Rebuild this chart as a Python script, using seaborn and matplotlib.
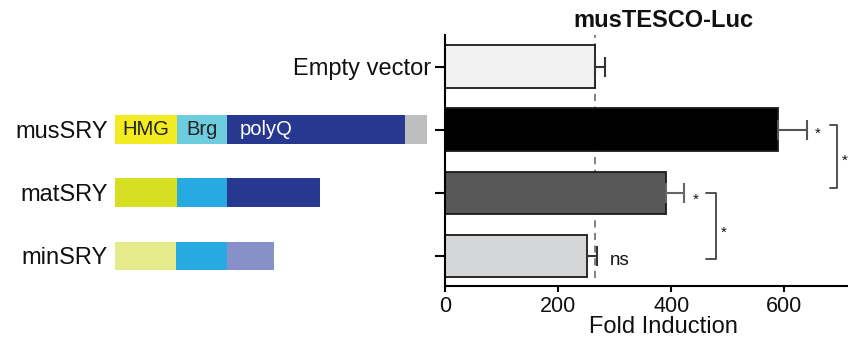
import matplotlib
matplotlib.use("Agg")
import matplotlib.pyplot as plt
import numpy as np
import pandas as pd
import seaborn as sns

# luciferase assay values (fold induction)
constructs = ["Empty vector", "musSRY", "matSRY", "minSRY"]
fold = [265, 589, 391, 251]
fold_err = [18, 51, 32, 17]
baseline = 265
bar_colors = ["#F2F2F2", "#000000", "#575757", "#D5D6D8"]
err_colors = ["#333333", "#555555", "#666666", "#333333"]
xticks = [0, 200, 400, 600]

# domain schematic (relative lengths)
sry_rows = ["musSRY", "matSRY", "minSRY"]
hmg_len = [62, 62, 61]
brg_len = [50, 50, 51]
polyq_len = [178, 93, 47]
tail_len = [22, 0, 0]
hmg_colors = ["#F3EB22", "#D7DF23", "#E5EA8B"]
brg_colors = ["#6DCDDF", "#27AAE1", "#27AAE1"]
polyq_colors = ["#283891", "#283891", "#8790C8"]
tail_color = "#BCBEC0"

sns.set_theme(style="white")
plt.rcParams["font.family"] = ["Liberation Sans", "DejaVu Sans"]
plt.rcParams["text.color"] = "#111111"
plt.rcParams["axes.labelcolor"] = "#111111"
plt.rcParams["xtick.color"] = "#111111"
plt.rcParams["ytick.color"] = "#111111"

fig = plt.figure(figsize=(8.48, 3.39), dpi=100)
ax = fig.add_axes([445 / 848, 53 / 339, 436 / 848, 251 / 339])
ax_s = fig.add_axes([115 / 848, 53 / 339, 325 / 848, 251 / 339])

df = pd.DataFrame({"construct": constructs, "fold": fold})
sns.barplot(data=df, x="fold", y="construct", hue="construct",
            palette=bar_colors, orient="h", width=0.67, errorbar=None,
            edgecolor="#1a1a1a", linewidth=1.3, legend=False, ax=ax)

for i, (v, e, c) in enumerate(zip(fold, fold_err, err_colors)):
    ax.errorbar(v, i, xerr=[[0], [e]], fmt="none", ecolor=c,
                elinewidth=1.5, capsize=7, capthick=1.5)

ax.axvline(baseline, ymin=0.03, ymax=1, color="#777777", lw=1.3,
           dashes=(4, 3), zorder=0.5)

ax.set_xlim(0, 771)
ax.set_ylim(3.48, -0.5)
ax.set_xticks(xticks)
ax.set_yticks(range(len(constructs)))
ax.set_yticklabels(["Empty vector", "", "", ""])
ax.tick_params(axis="x", labelsize=15.5, length=4.5, width=1.5, pad=3,
               bottom=True, color="black")
ax.tick_params(axis="y", labelsize=17, length=7, width=1.5, pad=3,
               left=True, color="black")
ax.set_ylabel("")
ax.set_xlabel("Fold Induction", fontsize=17, labelpad=-1)
ax.set_title("musTESCO-Luc", fontsize=17, fontweight="bold", pad=6)
for side in ["top", "right"]:
    ax.spines[side].set_visible(False)
for side in ["left", "bottom"]:
    ax.spines[side].set_color("black")
    ax.spines[side].set_linewidth(1.5)

# significance marks
line_kw = dict(color="#444444", lw=1.3, clip_on=False)
ax.text(659, 1.06, "*", fontsize=11, ha="center", va="center")
ax.plot([680, 694, 694, 680], [0.93, 0.93, 1.93, 1.93], **line_kw)
ax.text(707, 1.49, "*", fontsize=11, ha="center", va="center")
ax.text(444, 2.11, "*", fontsize=11, ha="center", va="center")
ax.plot([461, 480, 480, 461], [2.01, 2.01, 3.05, 3.05], **line_kw)
ax.text(493, 2.64, "*", fontsize=11, ha="center", va="center")
ax.text(292, 3.07, "ns", fontsize=13.5, ha="left", va="center")

# SRY domain schematic
rows = np.arange(1, len(sry_rows) + 1)
start = np.zeros(len(sry_rows))
for lengths, colors in [(hmg_len, hmg_colors), (brg_len, brg_colors),
                        (polyq_len, polyq_colors),
                        (tail_len, [tail_color] * 3)]:
    ax_s.barh(rows, lengths, left=start, height=0.45, color=colors,
              linewidth=0)
    start = start + np.array(lengths)

ax_s.text(hmg_len[0] / 2, 1, "HMG", fontsize=14.5, color="#222222",
          ha="center", va="center")
ax_s.text(hmg_len[0] + brg_len[0] / 2, 1, "Brg", fontsize=14.5,
          color="#222222", ha="center", va="center")
ax_s.text(hmg_len[0] + brg_len[0] + 13, 1, "polyQ", fontsize=14.5,
          color="white", ha="left", va="center")

ax_s.set_xlim(0, 325)
ax_s.set_ylim(3.48, -0.5)
ax_s.set_xticks([])
ax_s.set_yticks(rows)
ax_s.set_yticklabels(sry_rows)
ax_s.tick_params(axis="y", labelsize=17, length=0, pad=5)
for side in ax_s.spines:
    ax_s.spines[side].set_visible(False)
ax_s.patch.set_alpha(0)

fig.savefig("out.png", dpi=100)
